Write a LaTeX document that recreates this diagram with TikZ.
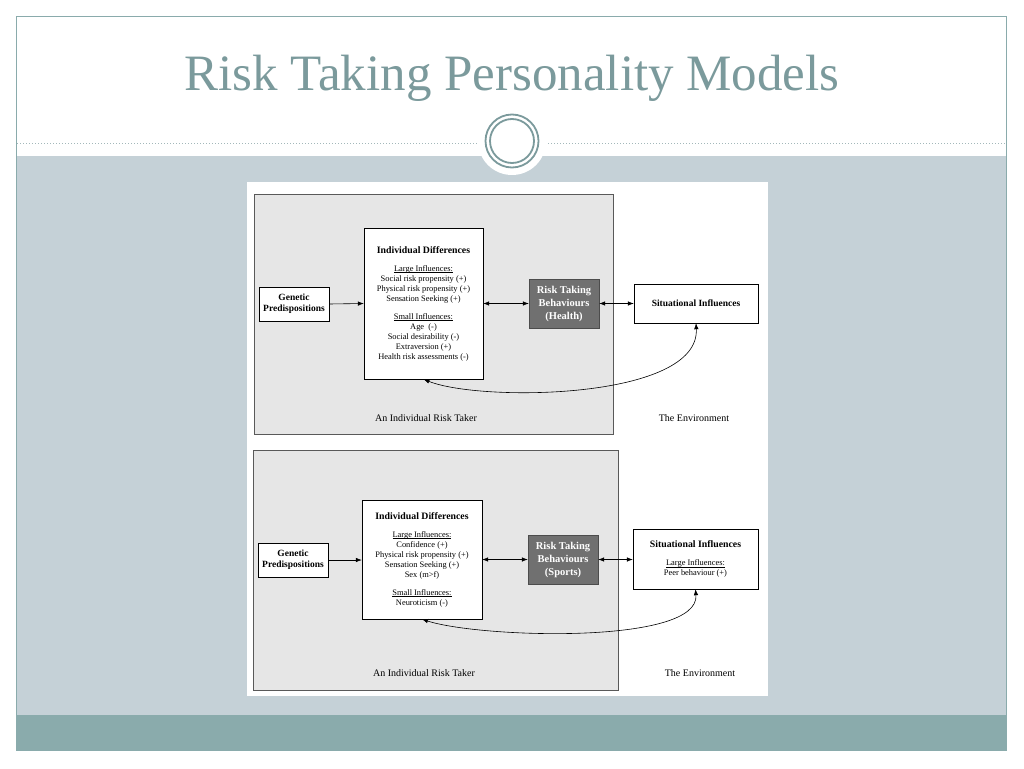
\documentclass[tikz,border=0pt]{standalone}
\usepackage{fontspec}
\setmainfont{Liberation Serif}
\usetikzlibrary{arrows.meta}
\definecolor{slatebg}{HTML}{C5D1D7}
\definecolor{tealband}{HTML}{8AABAC}
\definecolor{titlegray}{HTML}{7B9A9C}
\definecolor{panelgray}{HTML}{E6E6E6}
\definecolor{behavgray}{HTML}{707070}
\newcommand{\infhead}[1]{\underline{\smash{#1}}}
\begin{document}
\begin{tikzpicture}[x=1pt,y=-1pt,
  box/.style={draw,fill=white,align=center,inner sep=0pt,font=\fontsize{8.4}{10}\selectfont},
  bold/.style={font=\bfseries\fontsize{9.5}{11}\selectfont},
  behav/.style={draw=black!70,fill=behavgray,text=white,align=center,inner sep=0pt,font=\bfseries\fontsize{10.5}{13}\selectfont},
  panel/.style={draw=black!65,line width=1pt,fill=panelgray},
  lbl/.style={font=\fontsize{10}{12}\selectfont},
  arr/.style={-{Latex[length=6pt,width=4.5pt]},line width=.6pt},
  dbl/.style={{Latex[length=6pt,width=4.5pt]}-{Latex[length=6pt,width=4.5pt]},line width=.6pt}]
\useasboundingbox (0,0) rectangle (1024,768);
% slide background
\fill[white] (0,0) rectangle (1024,768);
\fill[slatebg] (17,156) rectangle (1006,715);
\fill[tealband] (17,715) rectangle (1006,750);
\draw[tealband,line width=1pt] (16.5,17) rectangle (1006.5,750);
\draw[titlegray!70,dotted,line width=1pt] (17,143) -- (1006,143);
\fill[white] (512,141) circle (34);
\draw[titlegray,line width=1.8pt] (512,141) circle (26.5);
\draw[titlegray,line width=1.8pt] (512,141) circle (22);
\node[text=titlegray,font=\fontsize{51}{60}\selectfont] (title) at (512,78) {Risk Taking Personality Models};
\fill[white] (247,182) rectangle (768,696);
% upper model
\draw[panel] (254,194) rectangle (613,434);
\node[box,bold,minimum width=70,minimum height=34] (gen1) at (294,304) {Genetic\\Predispositions};
\node[box,minimum width=119,minimum height=151] (id1) at (423.5,303.5)
  {\textbf{\fontsize{9.8}{10}\selectfont Individual Differences}\\[8pt]
   \infhead{Large Influences:}\\ Social risk propensity (+)\\ Physical risk propensity (+)\\
   Sensation Seeking (+)\\[8pt] \infhead{Small Influences:}\\ Age\ \ (-)\\
   Social desirability (-)\\ Extraversion (+)\\ Health risk assessments (-)};
\node[behav,minimum width=70,minimum height=49] (rtb1) at (564,303.5) {Risk Taking\\Behaviours\\(Health)};
\node[box,bold,minimum width=124,minimum height=39] (si1) at (696,303.5) {Situational Influences};
\draw[arr] (gen1.east) -- (id1.west);
\draw[dbl] (id1.east) -- (rtb1.west);
\draw[dbl] (rtb1.east) -- (si1.west);
\draw[dbl] (id1.south) .. controls (480,402) and (700,400) .. (si1.south);
\node[lbl] (ind1) at (426,418) {An Individual Risk Taker};
\node[lbl] (env1) at (694,418) {The Environment};
% lower model
\draw[panel] (253,450) rectangle (618,690);
\node[box,bold,minimum width=70,minimum height=34] (gen2) at (293,560) {Genetic\\Predispositions};
\node[box,minimum width=120,minimum height=119] (id2) at (422,559.5)
  {\textbf{\fontsize{9.8}{10}\selectfont Individual Differences}\\[8pt]
   \infhead{Large Influences:}\\ Confidence (+)\\ Physical risk propensity (+)\\
   Sensation Seeking (+)\\ Sex (m>f)\\[8pt] \infhead{Small Influences:}\\ Neuroticism (-)};
\node[behav,minimum width=70,minimum height=49] (rtb2) at (563,559.5) {Risk Taking\\Behaviours\\(Sports)};
\node[box,minimum width=125,minimum height=60] (si2) at (695.5,559)
  {\textbf{\fontsize{9.8}{10}\selectfont Situational Influences}\\[8pt]
   \infhead{Large Influences:}\\ Peer behaviour (+)};
\draw[arr] (gen2.east) -- (gen2.east -| id2.west);
\draw[dbl] (id2.east |- rtb2.west) -- (rtb2.west);
\draw[dbl] (rtb2.east) -- (rtb2.east -| si2.west);
\draw[dbl] (id2.south) .. controls (480,638) and (700,645) .. (si2.south);
\node[lbl] (ind2) at (424,673) {An Individual Risk Taker};
\node[lbl] (env2) at (700,673) {The Environment};
\end{tikzpicture}
\end{document}
